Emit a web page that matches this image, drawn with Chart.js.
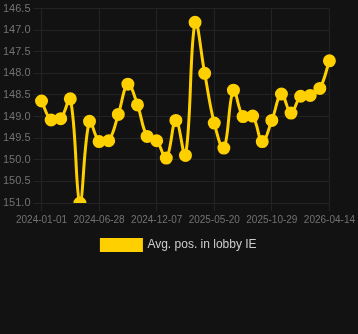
<!DOCTYPE html>
<html>
<head>
<meta charset="utf-8">
<script src="https://cdn.jsdelivr.net/npm/chart.js@4/dist/chart.umd.min.js"></script>
<style>
    html, body { margin: 0; padding: 0; background: #121212; }
    #wrap { width: 358px; height: 261px; position: relative; }
</style>
</head>
<body>
<div id="wrap"><canvas id="chart"></canvas></div>
<script>
    // Tarihler (her 6. etiket eksende görünüyor)
    const labels = [
        '2024-01-01', '2024-01-31', '2024-03-01', '2024-03-31', '2024-04-30', '2024-05-29',
        '2024-06-28', '2024-07-25', '2024-08-21', '2024-09-17', '2024-10-14', '2024-11-10',
        '2024-12-07', '2025-01-03', '2025-01-30', '2025-02-26', '2025-03-25', '2025-04-22',
        '2025-05-20', '2025-06-17', '2025-07-14', '2025-08-10', '2025-09-06', '2025-10-02',
        '2025-10-29', '2025-11-26', '2025-12-24', '2026-01-21', '2026-02-18', '2026-03-18',
        '2026-04-14'
    ];

    const avgPos = [
        148.64, 149.08, 149.05, 148.59, 151.0, 149.11,
        149.58, 149.56, 148.95, 148.25, 148.73, 149.46,
        149.56, 149.96, 149.09, 149.9, 146.82, 148.0,
        149.15, 149.73, 148.39, 149.0, 148.99, 149.58,
        149.09, 148.48, 148.92, 148.53, 148.51, 148.35,
        147.71
    ];

    const seriesLabel = 'Avg. pos. in lobby IE';
    const yMin = 146.5;
    const yMax = 151.0;

    const gold = '#ffd000';
    const tickColor = '#727272';
    const gridColor = '#232323';

    new Chart(document.getElementById('chart'), {
        type: 'line',
        data: {
            labels,
            datasets: [{
                label: seriesLabel,
                data: avgPos,
                borderColor: gold,
                backgroundColor: gold,
                borderWidth: 3,
                tension: 0.4,
                pointRadius: 5,
                pointBackgroundColor: gold,
                pointBorderColor: gold,
                fill: false
            }]
        },
        options: {
            responsive: true,
            maintainAspectRatio: false,
            animation: false,
            plugins: {
                legend: {
                    position: 'bottom',
                    labels: { color: '#cccccc', font: { size: 12 }, boxWidth: 40, boxHeight: 11 }
                },
                tooltip: { enabled: false }
            },
            scales: {
                x: {
                    grid: { color: gridColor },
                    border: { color: gridColor },
                    ticks: {
                        color: tickColor,
                        font: { size: 10 },
                        maxRotation: 0,
                        autoSkip: false,
                        callback: (v, i) => i % 6 === 0 ? labels[i] : null
                    }
                },
                y: {
                    reverse: true,
                    min: yMin,
                    max: yMax,
                    grid: { color: gridColor },
                    border: { color: gridColor },
                    ticks: {
                        color: tickColor,
                        font: { size: 11, lineHeight: 1 },
                        stepSize: 0.5,
                        callback: v => Number(v).toFixed(1)
                    }
                }
            }
        }
    });
</script>
</body>
</html>
